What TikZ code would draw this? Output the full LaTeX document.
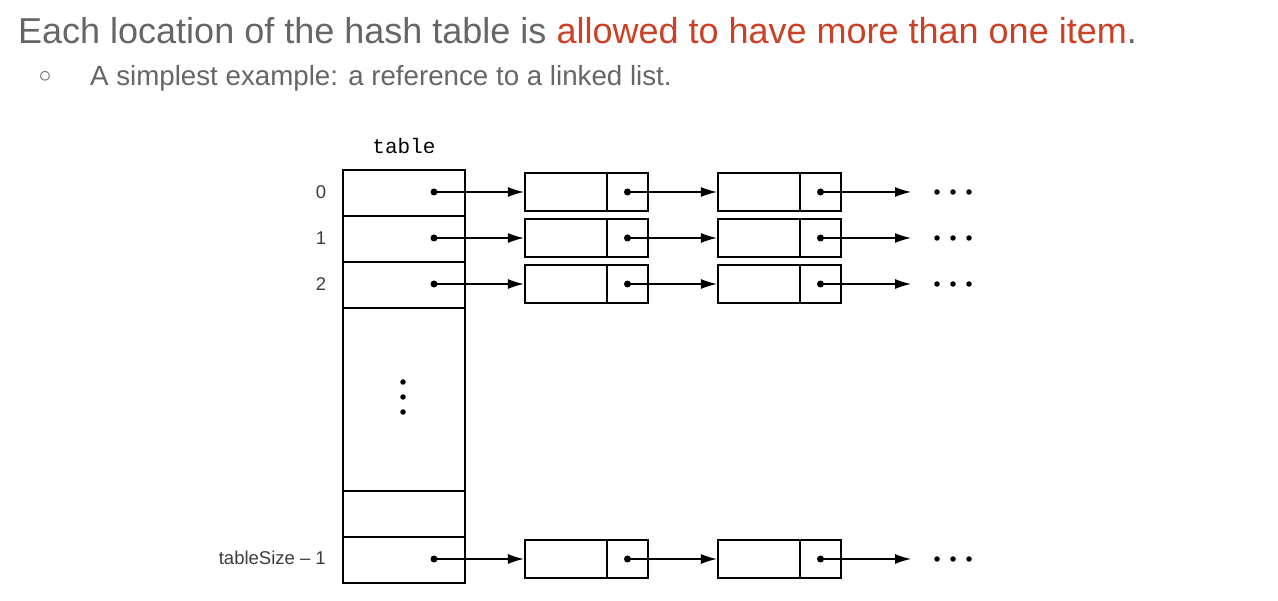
\documentclass[tikz,border=0pt]{standalone}
\usepackage{fontspec}
\setmainfont{Liberation Sans}
\newfontfamily\titlefont{Liberation Sans}
\newfontfamily\monofont{Liberation Mono}
\usetikzlibrary{arrows.meta}
\definecolor{tgray}{RGB}{102,102,102}
\definecolor{tred}{RGB}{204,65,37}
\definecolor{lblgray}{RGB}{60,60,60}
\begin{document}
\begin{tikzpicture}[x=1pt,y=-1pt,
  cell/.style={draw=black, line width=2.2pt, minimum width=122pt, minimum height=46pt, inner sep=0pt, anchor=north west},
  datbox/.style={draw=black, line width=2.2pt, minimum width=82pt, minimum height=38pt, inner sep=0pt},
  ptrbox/.style={draw=black, line width=2.2pt, minimum width=41pt, minimum height=38pt, inner sep=0pt},
  pdot/.style={circle, fill=black, inner sep=0pt, minimum size=7pt},
  edot/.style={circle, fill=black, inner sep=0pt, minimum size=5.5pt},
  arr/.style={line width=1.3pt, -{Latex[length=16pt,width=10pt]}},
  lbl/.style={font=\fontsize{18.5}{22}\selectfont, text=lblgray, inner sep=0pt}
]
\useasboundingbox[fill=white] (0,0) rectangle (1278,601);

% heading
\node[anchor=base west, inner sep=0pt, font=\titlefont\fontsize{36}{42}\selectfont] (title) at (18,44)
  {\textcolor{tgray}{Each location of the hash table is }\textcolor{tred}{allowed to have more than one item}\textcolor{tgray}{.}};
\node[inner sep=0pt, text=tgray, font=\fontsize{24}{26}\selectfont] (bullet) at (45,77) {$\circ$};
\node[anchor=base west, inner sep=0pt, text=tgray, font=\titlefont\fontsize{27.7}{32}\selectfont] (sub) at (90,86)
  {A simplest example: a reference to a linked list.};

% table
\node[anchor=base, inner sep=0pt, font=\monofont\fontsize{21}{24}\selectfont] (tlabel) at (404,154) {table};
\node[cell] (c0) at (342,169) {};
\node[cell] (c1) at (342,215) {};
\node[cell] (c2) at (342,261) {};
\node[cell, minimum height=183pt] (cm) at (342,307) {};
\node[cell] (c3) at (342,490) {};
\node[cell] (c4) at (342,536) {};

\node[edot] (v1) at (403,382) {};
\node[edot] (v2) at (403,397) {};
\node[edot] (v3) at (403,412) {};

\node[lbl] (l0) at (321,192) {0};
\node[lbl] (l1) at (321,238) {1};
\node[lbl] (l2) at (321,284) {2};
\node[lbl, anchor=east] (l4) at (326,558) {tableSize -- 1};

% rows
\foreach \r/\y in {0/192,1/238,2/284,4/559}{
  \node[pdot] (t\r) at (434,\y) {};
  \node[datbox] (da\r) at (566,\y) {};
  \node[ptrbox] (pa\r) at (627.5,\y) {};
  \node[pdot] (qa\r) at (627.5,\y) {};
  \node[datbox] (db\r) at (759,\y) {};
  \node[ptrbox] (pb\r) at (820.5,\y) {};
  \node[pdot] (qb\r) at (820.5,\y) {};
  \coordinate (end\r) at (911,\y);
  \node[edot] (e\r a) at (937,\y) {};
  \node[edot] (e\r b) at (953,\y) {};
  \node[edot] (e\r c) at (969,\y) {};
  \draw[arr] (t\r.center) -- (da\r.west);
  \draw[arr] (qa\r.center) -- (db\r.west);
  \draw[arr] (qb\r.center) -- (end\r);
}
\end{tikzpicture}
\end{document}
